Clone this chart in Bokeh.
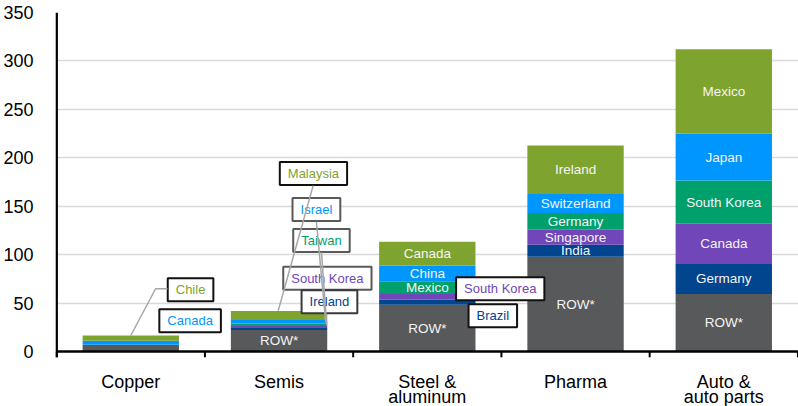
from bokeh.plotting import figure
from bokeh.models import FixedTicker, Label, Range1d
from bokeh.core.properties import value
from bokeh.embed import file_html
from bokeh.resources import INLINE

FONT = "Liberation Sans"

categories = ["Copper", "Semis", "Steel &\naluminum", "Pharma", "Auto &\nauto parts"]

# stacked layers, bottom to top
row_vals = [7.0, 22.1, 48.3, 97.9, 59.4]
layer1_vals = [0.0, 2.1, 5.2, 12.4, 31.0]
layer2_vals = [0.0, 2.1, 5.9, 15.5, 41.4]
layer3_vals = [0.0, 2.5, 13.0, 17.3, 44.8]
layer4_vals = [4.0, 3.8, 16.5, 19.6, 48.3]
layer5_vals = [5.5, 9.3, 24.5, 50.0, 87.2]

# names shown inside the bars ("" = no label inside)
row_names = ["", "ROW*", "ROW*", "ROW*", "ROW*"]
layer1_names = ["", "", "", "India", "Germany"]
layer2_names = ["", "", "", "Singapore", "Canada"]
layer3_names = ["", "", "Mexico", "Germany", "South Korea"]
layer4_names = ["", "", "China", "Switzerland", "Japan"]
layer5_names = ["", "", "Canada", "Ireland", "Mexico"]

y_ticks = [0, 50, 100, 150, 200, 250, 300, 350]

colors = ["#58595b", "#00458e", "#7046b8", "#00a06c", "#0096ff", "#7fa32f"]

# callouts: text, layer index, category index, box centre (x in category units, y value), border colour
callouts = [
    ("Chile", 5, 0, 0.903, 63.8, "#111111"),
    ("Canada", 4, 0, 0.900, 31.7, "#111111"),
    ("Malaysia", 5, 1, 1.732, 183.8, "#111111"),
    ("Israel", 4, 1, 1.752, 146.6, "#595959"),
    ("Taiwan", 3, 1, 1.786, 114.5, "#595959"),
    ("South Korea", 2, 1, 1.826, 75.6, "#595959"),
    ("Ireland", 1, 1, 1.840, 51.4, "#3a3a3a"),
    ("South Korea", 2, 2, 2.992, 64.8, "#111111"),
    ("Brazil", 1, 2, 2.942, 37.0, "#111111"),
]

# leader lines (x in category units, y value)
leaders = [
    ([0.748, 0.667, 0.5], [64.8, 64.8, 16.5]),
    ([1.730, 1.494], [171.3, 41.9]),
    ([1.752, 1.815], [134.0, 30.0]),
    ([1.786, 1.822], [102.5, 27.0]),
]

layers = [row_vals, layer1_vals, layer2_vals, layer3_vals, layer4_vals, layer5_vals]
names = [row_names, layer1_names, layer2_names, layer3_names, layer4_names, layer5_names]

n = len(categories)
xs = [i + 0.5 for i in range(n)]
bounds = list(range(n + 1))

Y_MIN = -56.8   # room below zero for the category names
TICK = -6.0     # tick length below the axis, in value units
LINE_Y = [-31.0, -47.3]  # baselines of the category-name lines

p = figure(width=798, height=406, x_range=Range1d(-0.008, 5.004), y_range=Range1d(Y_MIN, 350),
           output_backend="svg", toolbar_location=None,
           min_border_left=54, min_border_right=0, min_border_top=12, min_border_bottom=0)
p.outline_line_color = None
p.background_fill_color = "white"
p.border_fill_color = "white"
p.xaxis.visible = False

p.xgrid.visible = False
p.ygrid.ticker = FixedTicker(ticks=[t for t in y_ticks if 0 < t < 350])
p.ygrid.grid_line_color = "#d9d9d9"
p.ygrid.grid_line_width = 1.5

p.yaxis.ticker = FixedTicker(ticks=y_ticks)
p.yaxis.major_tick_line_color = None
p.yaxis.minor_tick_line_color = None
p.yaxis.axis_line_color = None
p.yaxis.major_label_text_font = FONT
p.yaxis.major_label_text_font_size = "18px"
p.yaxis.major_label_text_color = "black"
p.yaxis.major_label_standoff = 16

bottom = [0.0] * n
label_x, label_y, label_t = [], [], []
for vals, nms, col in zip(layers, names, colors):
    top = [b + v for b, v in zip(bottom, vals)]
    p.vbar(x=xs, width=0.65, bottom=bottom, top=top, fill_color=col, line_color=None)
    for i, (b, t, nm) in enumerate(zip(bottom, top, nms)):
        if nm:
            label_x.append(xs[i])
            label_y.append((b + t) / 2)
            label_t.append(nm)
    bottom = top

p.text(x=label_x, y=label_y, text=label_t, text_align="center", text_baseline="middle",
       text_font=value(FONT), text_font_size=value("13.5px"), text_color="#f4f4f4")

# axis lines and boundary ticks
p.segment(x0=[0], y0=[0], x1=[n], y1=[0], line_color="black", line_width=2.5)
p.segment(x0=[0], y0=[TICK], x1=[0], y1=[y_ticks[-1]], line_color="black", line_width=2.5)
p.segment(x0=bounds, y0=[0] * len(bounds), x1=bounds, y1=[TICK] * len(bounds),
          line_color="black", line_width=2)

# category names
cx, cy, ct = [], [], []
for x, cat in zip(xs, categories):
    for k, part in enumerate(cat.split("\n")):
        cx.append(x)
        cy.append(LINE_Y[k])
        ct.append(part)
p.text(x=cx, y=cy, text=ct, text_align="center", text_baseline="alphabetic",
       text_font=value(FONT), text_font_size=value("18px"), text_color="black")

for xs_l, ys_l in leaders:
    r = p.line(xs_l, ys_l, line_color="#a6a6a6", line_width=1.5)
    r.level = "overlay"

for text, layer, cat, bx, by, bc in callouts:
    p.add_layout(Label(x=bx, y=by, text=text, text_align="center", text_baseline="middle",
                       text_font=FONT, text_font_size="13px", text_color=colors[layer],
                       background_fill_color="white", border_line_color=bc,
                       border_line_width=2, padding=(8, 4)))

open("out.html", "w").write(file_html(p, INLINE))
